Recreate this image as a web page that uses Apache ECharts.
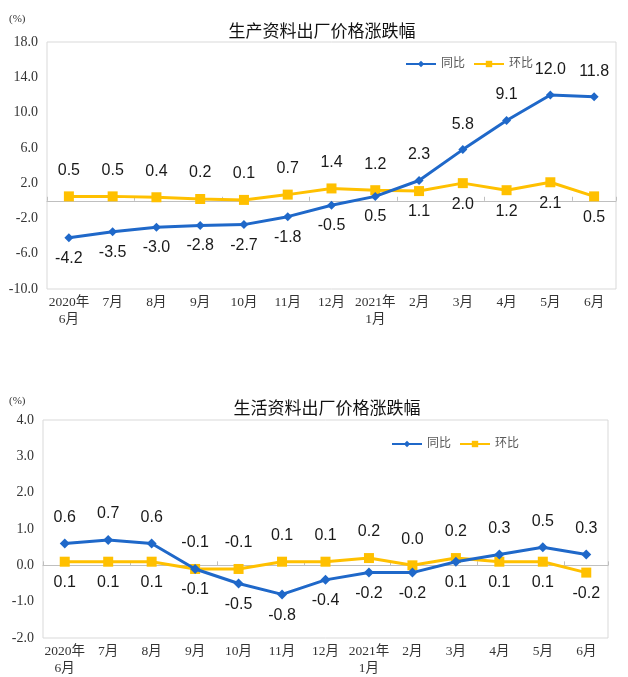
<!DOCTYPE html>
<html>
<head>
<meta charset="utf-8">
<script src="https://cdn.jsdelivr.net/npm/echarts@6/dist/echarts.min.js"></script>
<style>
html, body { margin: 0; padding: 0; background: #fff; }
#main { width: 628px; height: 677px; }
</style>
</head>
<body>
<div id="main"></div>
<script>
var months = ["2020年\n6月", "7月", "8月", "9月", "10月", "11月", "12月", "2021年\n1月", "2月", "3月", "4月", "5月", "6月"];

// 生产资料
var prodYoY = [-4.2, -3.5, -3.0, -2.8, -2.7, -1.8, -0.5, 0.5, 2.3, 5.8, 9.1, 12.0, 11.8];
var prodMoM = [0.5, 0.5, 0.4, 0.2, 0.1, 0.7, 1.4, 1.2, 1.1, 2.0, 1.2, 2.1, 0.5];
var prodTicks = [-10, -6, -2, 2, 6, 10, 14, 18];

// 生活资料
var lifeYoY = [0.6, 0.7, 0.6, -0.1, -0.5, -0.8, -0.4, -0.2, -0.2, 0.1, 0.3, 0.5, 0.3];
var lifeMoM = [0.1, 0.1, 0.1, -0.1, -0.1, 0.1, 0.1, 0.2, 0.0, 0.2, 0.1, 0.1, -0.2];

var BLUE = '#1f68c9';
var YELLOW = '#ffc000';
var serif = '"Liberation Serif", "Noto Sans CJK SC", serif';
var sans = '"Liberation Sans", "Noto Sans CJK SC", sans-serif';

// 高的那条线标签在上，低的在下
function withLabels(vals, other, isBlue) {
    return vals.map(function(v, i) {
        var up = isBlue ? (v > other[i]) : !(other[i] > v);
        return {
            value: v,
            label: { position: up ? 'top' : 'bottom', distance: up ? 13 : 8 }
        };
    });
}

function xAxes(grid) {
    return [{
        type: 'category', gridIndex: grid, data: months, boundaryGap: true,
        axisLine: { show: false, onZero: false },
        axisTick: { show: false },
        axisLabel: { fontFamily: serif, fontSize: 13.5, color: '#333', lineHeight: 17, margin: 5, interval: 0 }
    }, {
        type: 'category', gridIndex: grid, data: months, position: 'top', boundaryGap: true,
        axisLine: { show: true, onZero: true, lineStyle: { color: '#bfbfbf', width: 1 } },
        axisTick: { show: true, length: 4, lineStyle: { color: '#bfbfbf' } },
        axisLabel: { show: false }
    }];
}

function lineSeries(name, xi, yi, data, color, symbol, size) {
    return {
        name: name, type: 'line', xAxisIndex: xi, yAxisIndex: yi,
        data: data, symbol: symbol, symbolSize: size,
        lineStyle: { color: color, width: 3 },
        itemStyle: { color: color },
        label: { show: true, fontFamily: sans, fontSize: 16, color: '#1a1a1a',
            formatter: function(p) { return p.value.toFixed(1); } },
        z: symbol == 'diamond' ? 3 : 2
    };
}

var chart = echarts.init(document.getElementById('main'));
var option = {
    animation: false,
    backgroundColor: '#fff',
    title: [{
        text: '生产资料出厂价格涨跌幅', left: 317, top: 19, textAlign: 'center',
        textStyle: { fontFamily: sans, fontSize: 17, fontWeight: 'normal', color: '#111' }
    }, {
        text: '生活资料出厂价格涨跌幅', left: 322, top: 396, textAlign: 'center',
        textStyle: { fontFamily: sans, fontSize: 17, fontWeight: 'normal', color: '#111' }
    }],
    graphic: [
        { type: 'text', left: 9, top: 14, style: { text: '(%)', font: '11px ' + serif, fill: '#333' } },
        { type: 'text', left: 9, top: 396, style: { text: '(%)', font: '11px ' + serif, fill: '#333' } }
    ],
    legend: [{
        left: 400, top: 53, itemWidth: 30, itemHeight: 8, itemGap: 8,
        textStyle: { fontFamily: sans, fontSize: 12, color: '#595959' },
        data: ['同比', '环比']
    }, {
        left: 386, top: 433, itemWidth: 30, itemHeight: 8, itemGap: 8,
        textStyle: { fontFamily: sans, fontSize: 12, color: '#595959' },
        data: ['同比', '环比']
    }],
    grid: [
        { left: 47, top: 42, right: 12, bottom: 388, show: true, borderColor: '#d9d9d9', borderWidth: 1 },
        { left: 43, top: 420, right: 20, bottom: 38, show: true, borderColor: '#d9d9d9', borderWidth: 1 }
    ],
    xAxis: xAxes(0).concat(xAxes(1)),
    yAxis: [{
        type: 'value', gridIndex: 0, min: -10, max: 18,
        splitLine: { show: false }, axisLine: { show: false }, axisTick: { show: false },
        axisLabel: { customValues: prodTicks, fontFamily: serif, fontSize: 14, color: '#333', margin: 9,
            formatter: function(v) { return v.toFixed(1); } }
    }, {
        type: 'value', gridIndex: 1, min: -2, max: 4, interval: 1,
        splitLine: { show: false }, axisLine: { show: false }, axisTick: { show: false },
        axisLabel: { fontFamily: serif, fontSize: 14, color: '#333', margin: 9,
            formatter: function(v) { return v.toFixed(1); } }
    }],
    series: [
        lineSeries('同比', 0, 0, withLabels(prodYoY, prodMoM, true), BLUE, 'diamond', 9),
        lineSeries('环比', 0, 0, withLabels(prodMoM, prodYoY, false), YELLOW, 'rect', 10),
        lineSeries('同比', 2, 1, withLabels(lifeYoY, lifeMoM, true), BLUE, 'diamond', 10),
        lineSeries('环比', 2, 1, withLabels(lifeMoM, lifeYoY, false), YELLOW, 'rect', 10)
    ]
};
chart.setOption(option);
</script>
</body>
</html>
